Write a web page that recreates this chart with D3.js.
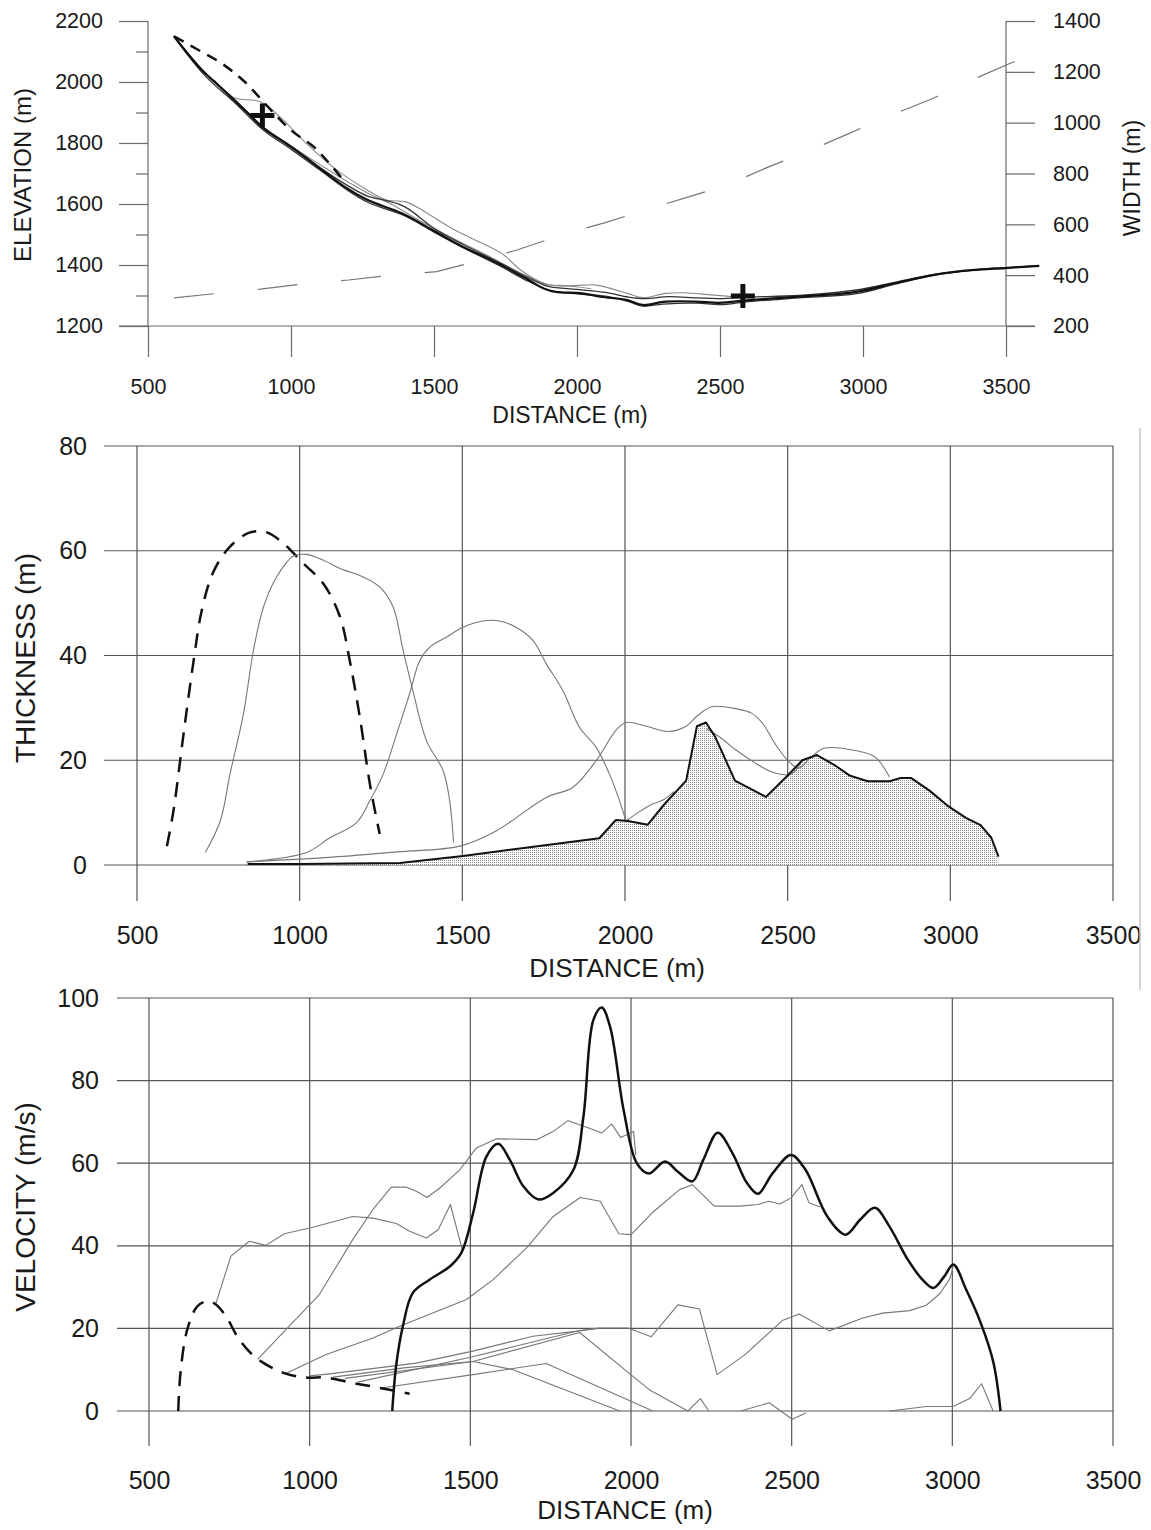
<!DOCTYPE html>
<html><head><meta charset="utf-8">
<script src="https://cdn.jsdelivr.net/npm/d3@7"></script>
<style>
body{margin:0;background:#fff;}
text{font-family:"Liberation Sans",Arial,sans-serif;fill:#1a1a1a;}
</style></head>
<body>
<svg id="chart" width="1151" height="1530"></svg>
<script>
// ---------- DATA ----------
const distTicks = [500,1000,1500,2000,2500,3000,3500];
const elevTicks = [1200,1400,1600,1800,2000,2200];
const elevMinor = [1300,1500,1700,1900,2100];
const widthTicks = [200,400,600,800,1000,1200,1400];
const thickTicks = [0,20,40,60,80];
const velTicks = [0,20,40,60,80,100];

// top panel: elevation (m) vs distance (m)
const bedMain = [[591,2150],[678,2049],[759,1978],[839,1907],[906,1847],[1000,1787],[1094,1722],[1188,1656],[1268,1613],[1389,1569],[1496,1514],[1590,1465],[1724,1405],[1831,1351],[1884,1323],[1925,1312],[2018,1307],[2083,1296],[2176,1285],[2230,1269],[2310,1280],[2417,1280],[2497,1276],[2603,1285],[2777,1296],[2977,1312],[3111,1340],[3244,1367],[3378,1383],[3497,1390],[3616,1397]];
const bedB = [[591,2150],[700,2030],[800,1945],[906,1850],[1000,1790],[1100,1720],[1190,1665],[1270,1625],[1330,1612],[1400,1590],[1500,1520],[1600,1468],[1724,1410],[1831,1358],[1900,1330],[2000,1320],[2100,1310],[2180,1295],[2240,1290],[2320,1296],[2420,1292],[2500,1290],[2600,1295],[2777,1300],[2977,1318],[3111,1343],[3244,1368],[3400,1385],[3616,1397]];
const bedC = [[591,2150],[700,2020],[800,1935],[906,1840],[1000,1780],[1100,1712],[1190,1650],[1270,1605],[1400,1560],[1500,1508],[1600,1458],[1724,1400],[1831,1346],[1900,1318],[2000,1305],[2100,1298],[2180,1280],[2230,1265],[2300,1272],[2420,1275],[2500,1270],[2600,1280],[2777,1292],[2977,1306],[3111,1337],[3244,1366],[3400,1384],[3616,1397]];
const surfG1 = [[732,2006],[799,1949],[893,1935],[973,1875],[1054,1798],[1161,1711],[1268,1645],[1335,1613],[1402,1607],[1469,1574],[1563,1520],[1657,1476],[1737,1438],[1804,1383],[1885,1340],[1938,1331],[2018,1334],[2069,1334],[2176,1307],[2230,1293],[2310,1307],[2377,1309],[2470,1302],[2550,1296]];
const surfG2 = [[1000,1790],[1100,1730],[1200,1672],[1280,1630],[1350,1600],[1450,1545],[1560,1490],[1700,1425],[1800,1375],[1900,1335],[1960,1333],[2050,1322]];
const releaseTop = [[591,2150],[678,2104],[759,2060],[839,2000],[920,1918],[1000,1842],[1080,1787],[1134,1733],[1188,1673]];
const crossPts = [[900,1890],[2580,1298]];
// top panel: width (m) vs distance (m)
const widthLine = [[591,311],[739,328],[893,345],[1040,365],[1201,381],[1349,400],[1509,414],[1643,453],[1790,499],[1945,558],[2096,606],[2230,653],[2390,708],[2523,754],[2670,826],[2817,892],[2950,957],[3097,1029],[3244,1095],[3378,1167],[3511,1232],[3618,1274]];

// middle panel: thickness (m)
const thickInit = [[592,3.6],[612,10.3],[643,25],[674,39],[699,48.6],[735,56],[786,60.8],[848,63.5],[899,63.5],[950,61.4],[1011,57.6],[1073,53.7],[1124,47.4],[1154,39],[1185,28.2],[1216,15.4],[1246,5.9]];
const thickT1 = [[710,2.4],[756,8.4],[786,17.4],[827,28.8],[858,41],[889,49.3],[929,55],[981,59],[1021,59.3],[1073,58.2],[1124,56.6],[1195,55],[1246,53.1],[1287,49.3],[1318,41],[1348,33.3],[1390,23.7],[1441,18],[1461,12.3],[1473,4.3]];
const thickT2 = [[837,0.6],[1021,2.4],[1093,5.2],[1175,8.1],[1216,12.3],[1257,17.4],[1298,25],[1338,32.7],[1369,39],[1400,41.6],[1451,43.5],[1502,45.4],[1563,46.6],[1614,46.6],[1665,45.4],[1717,42.9],[1758,38.4],[1809,33.3],[1860,26.3],[1911,22.5],[1952,17.4],[1983,12.3],[2003,8.4]];
const thickT3 = [[837,0.6],[1100,1.5],[1300,2.5],[1492,3.6],[1604,6.5],[1758,12.9],[1839,14.8],[1911,19.9],[1972,25.7],[2003,27.2],[2065,26.5],[2132,25.5],[2188,26.5],[2221,28.4],[2266,30.2],[2344,29.8],[2389,29],[2422,27.1],[2467,22.6],[2500,20],[2534,18.5],[2570,20.5],[2612,22.3],[2713,21.8],[2769,20.6],[2813,16.8]];
const thickT4 = [[2003,8.4],[2040,10],[2080,11.5],[2120,12.5],[2150,14]];
const thickT5 = [[2250,26],[2290,24.5],[2340,22],[2400,19.5],[2450,17.8],[2510,17.3],[2545,20]];
const thickFinal = [[840,0.2],[1000,0.2],[1308,0.4],[1502,1.7],[1707,3.4],[1921,5.1],[1972,8.6],[2009,8.4],[2070,7.7],[2121,11.6],[2188,16.1],[2221,26.5],[2249,27.2],[2277,24.5],[2338,16.1],[2433,13],[2500,17.1],[2545,20],[2590,21],[2646,19],[2690,17.1],[2746,16],[2813,16],[2847,16.6],[2880,16.6],[2936,14.2],[2992,11.3],[3048,9],[3093,7.6],[3126,5.2],[3148,1.6]];

// bottom panel: velocity (m/s)
const velMain = [[1257,0],[1269,10.9],[1290,20.5],[1321,28.6],[1373,31.8],[1436,35],[1472,38.3],[1509,48],[1550,61.6],[1587,64.7],[1623,60.8],[1665,54.4],[1712,51.2],[1758,52.8],[1821,58.4],[1852,71.3],[1883,94.7],[1909,97.7],[1935,93],[1977,72.9],[2018,60],[2055,57.5],[2106,60.4],[2145,58],[2191,55.6],[2225,60.8],[2270,67.4],[2316,62.4],[2361,55.2],[2395,52.6],[2441,57.6],[2498,62],[2543,58.4],[2611,47.1],[2668,42.7],[2713,46.3],[2759,49.2],[2804,44.7],[2861,36.7],[2907,31.8],[2941,29.8],[2975,32.6],[3003,35.5],[3043,29.4],[3088,21.4],[3128,11.7],[3150,0]];
const velInit = [[591,0],[598,9.3],[619,19.7],[651,25.4],[682,26.6],[708,25.8],[739,23],[781,17.3],[833,12.9],[916,9.3],[989,8.1],[1051,8.1],[1134,6.8],[1218,5.6],[1311,4.2]];
const velA = [[708,26],[755,37.5],[812,41.1],[864,40.1],[921,42.9],[1010,44.5],[1134,47.1],[1197,46.7],[1270,45.4],[1311,43.5],[1363,41.9],[1400,43.9],[1438,50],[1475,39]];
const velB = [[838,12.5],[926,19.7],[1030,28.2],[1134,41.5],[1197,48.8],[1254,54.2],[1301,54.2],[1332,53.2],[1365,51.7],[1405,54],[1467,58.4],[1519,63.7],[1581,65.9],[1706,65.7],[1758,67.7],[1804,70.3],[1862,68.7],[1909,67.3],[1940,69.5],[1968,66.2],[2008,67.7],[2015,62]];
const velC = [[926,9.1],[1051,13.7],[1197,17.7],[1280,20.5],[1488,27],[1571,31.8],[1675,39.5],[1758,47.1],[1842,51.7],[1904,50.8],[1962,42.9],[2000,42.7],[2066,48],[2151,53.6],[2191,54.8],[2259,49.6],[2339,49.6],[2395,50],[2429,50.8],[2463,50.1],[2498,51.6],[2532,54.8],[2554,50.4],[2589,49.4]];
const velD = [[1000,8.5],[1062,9],[1332,11.6],[1508,14.5],[1695,18.1],[1840,19.4],[1902,20.1],[1990,20.1],[2063,18],[2146,25.7],[2213,24.7],[2268,8.8],[2356,13.7],[2471,21.9],[2523,23.5],[2617,19.4],[2721,22.5],[2783,23.7],[2867,24.3],[2919,25.6],[2961,28.4],[2992,32],[3003,35]];
const velE2 = [[1110,7.9],[1508,12],[1840,19],[2006,8.4],[2058,5.1],[2177,0],[2216,3],[2242,0]];
const velE3 = [[1218,5.5],[1508,8.8],[1736,11.5],[2068,0]];
const velE4 = [[1073,8.2],[1300,10.5],[1508,12],[1633,10],[1965,0]];
const velE5 = [[1150,7],[1500,13],[1840,19.5],[1900,20]];
const velE6 = [[2341,0],[2430,2],[2502,-2],[2544,-0.5]];
const velE7 = [[2804,0],[2919,1.1],[3002,1.1],[3054,3],[3091,6.6],[3127,0]];

// ---------- DRAW ----------
const svg = d3.select("#chart");
const fmt = d3.format("d");
const defs = svg.append("defs");
const pat = defs.append("pattern").attr("id","dots").attr("width",2).attr("height",2).attr("patternUnits","userSpaceOnUse");
pat.append("rect").attr("width",2).attr("height",2).attr("fill","#fff");
pat.append("rect").attr("width",1).attr("height",1).attr("fill","#8a8a8a");

const AX = "#6a6a6a";
function styleAxis(g, fs){
  g.select(".domain").remove();
  g.selectAll(".tick line").attr("stroke",AX).attr("stroke-width",1.2);
  g.selectAll(".tick text").attr("font-size",fs).attr("fill","#1a1a1a").attr("font-family","Liberation Sans, Arial, sans-serif");
}
function drawLine(g, data, xs, ys, opts){
  const gen = d3.line().x(d=>xs(d[0])).y(d=>ys(d[1])).curve(opts.curve||d3.curveLinear);
  g.append("path").datum(data).attr("d",gen).attr("fill","none")
   .attr("stroke",opts.color||"#111").attr("stroke-width",opts.width||1)
   .attr("stroke-dasharray",opts.dash||null).attr("stroke-linejoin","round").attr("stroke-linecap","butt");
}

// ===== TOP PANEL =====
const xT = d3.scaleLinear([500,3500],[148,1006]);
const yE = d3.scaleLinear([1200,2200],[326,21]);
const yW = d3.scaleLinear([200,1400],[326,21]);
const topG = svg.append("g");
topG.append("line").attr("x1",xT(500)-29).attr("x2",xT(3500)+29).attr("y1",yE(1200)).attr("y2",yE(1200)).attr("stroke",AX).attr("stroke-width",1.2);
topG.append("line").attr("x1",xT(500)).attr("x2",xT(500)).attr("y1",yE(2200)).attr("y2",yE(1200)).attr("stroke",AX).attr("stroke-width",1.2);
topG.append("line").attr("x1",xT(3500)).attr("x2",xT(3500)).attr("y1",yW(1400)).attr("y2",yW(200)).attr("stroke",AX).attr("stroke-width",1.2);
const gxT = topG.append("g").attr("transform",`translate(0,${yE(1200)})`)
  .call(d3.axisBottom(xT).tickValues(distTicks).tickFormat(fmt).tickSize(31).tickPadding(22));
styleAxis(gxT,21.5);
const gyT = topG.append("g").attr("transform",`translate(${xT(500)},0)`)
  .call(d3.axisLeft(yE).tickValues(elevTicks).tickFormat(fmt).tickSize(29).tickPadding(16));
styleAxis(gyT,21.5);
const gyTm = topG.append("g").attr("transform",`translate(${xT(500)},0)`)
  .call(d3.axisLeft(yE).tickValues(elevMinor).tickSize(12).tickFormat(""));
styleAxis(gyTm,21.5);
const gyW = topG.append("g").attr("transform",`translate(${xT(3500)},0)`)
  .call(d3.axisRight(yW).tickValues(widthTicks).tickFormat(fmt).tickSize(29).tickPadding(18));
styleAxis(gyW,21.5);
topG.append("text").attr("x",570).attr("y",423).attr("text-anchor","middle").attr("font-size",23).text("DISTANCE (m)");
topG.append("text").attr("transform","translate(31,175) rotate(-90)").attr("text-anchor","middle").attr("font-size",24).text("ELEVATION (m)");
topG.append("text").attr("transform","translate(1140,178) rotate(-90)").attr("text-anchor","middle").attr("font-size",23).text("WIDTH (m)");

const smooth = d3.curveCatmullRom.alpha(0.5);
drawLine(topG, widthLine, xT, yW, {color:"#777", width:1.2, dash:"40,44"});
drawLine(topG, surfG1, xT, yE, {color:"#8a8a8a", width:1.1, curve:smooth});
drawLine(topG, surfG2, xT, yE, {color:"#8a8a8a", width:1.1, curve:smooth});
drawLine(topG, bedB, xT, yE, {color:"#333", width:1.3, curve:smooth});
drawLine(topG, bedC, xT, yE, {color:"#333", width:1.3, curve:smooth});
drawLine(topG, bedMain, xT, yE, {color:"#111", width:2.2, curve:smooth});
drawLine(topG, releaseTop, xT, yE, {color:"#111", width:2.5, dash:"11,8", curve:smooth});
topG.selectAll(".cross").data(crossPts).join("path").attr("class","cross")
  .attr("d", d=>{const cx=xT(d[0]), cy=yE(d[1]); return `M${cx-12},${cy}H${cx+12}M${cx},${cy-12}V${cy+12}`;})
  .attr("stroke","#111").attr("stroke-width",5).attr("fill","none");

// ===== MIDDLE PANEL =====
const xM = d3.scaleLinear([500,3500],[137,1113]);
const yM = d3.scaleLinear([0,80],[865,446]);
const mid = svg.append("g");
const GR = "#555";
mid.selectAll(".vg").data(distTicks).join("line").attr("x1",d=>xM(d)).attr("x2",d=>xM(d)).attr("y1",yM(80)).attr("y2",yM(0)+36).attr("stroke",GR).attr("stroke-width",1.2);
mid.selectAll(".hg").data(thickTicks).join("line").attr("x1",xM(500)-33).attr("x2",xM(3500)).attr("y1",d=>yM(d)).attr("y2",d=>yM(d)).attr("stroke",GR).attr("stroke-width",1.2);
const gxM = mid.append("g").attr("transform",`translate(0,${yM(0)})`)
  .call(d3.axisBottom(xM).tickValues(distTicks).tickFormat(fmt).tickSize(36).tickPadding(25));
styleAxis(gxM,25); gxM.selectAll(".tick line").remove();
const gyM = mid.append("g").attr("transform",`translate(${xM(500)},0)`)
  .call(d3.axisLeft(yM).tickValues(thickTicks).tickFormat(fmt).tickSize(33).tickPadding(17));
styleAxis(gyM,25); gyM.selectAll(".tick line").remove();
mid.append("text").attr("x",617).attr("y",977).attr("text-anchor","middle").attr("font-size",26).text("DISTANCE (m)");
mid.append("text").attr("transform","translate(35,658) rotate(-90)").attr("text-anchor","middle").attr("font-size",28).text("THICKNESS (m)");

const area = d3.area().x(d=>xM(d[0])).y0(yM(0)).y1(d=>yM(d[1]));
mid.append("path").datum(thickFinal.concat([[thickFinal[thickFinal.length-1][0],0]])).attr("d",area).attr("fill","url(#dots)").attr("stroke","none");
drawLine(mid, thickInit, xM, yM, {color:"#111", width:2.5, dash:"15,10", curve:smooth});
drawLine(mid, thickT1, xM, yM, {color:"#777", width:1.1, curve:smooth});
drawLine(mid, thickT2, xM, yM, {color:"#777", width:1.1, curve:smooth});
drawLine(mid, thickT3, xM, yM, {color:"#777", width:1.1, curve:smooth});
drawLine(mid, thickT4, xM, yM, {color:"#777", width:1.1, curve:smooth});
drawLine(mid, thickT5, xM, yM, {color:"#777", width:1.1, curve:smooth});
drawLine(mid, thickFinal, xM, yM, {color:"#111", width:2});

svg.append("line").attr("x1",xM(3500)+27).attr("x2",xM(3500)+27).attr("y1",yM(80)-18).attr("y2",yM(0)+125).attr("stroke","#c8c8c8").attr("stroke-width",1.5);

// ===== BOTTOM PANEL =====
const xB = d3.scaleLinear([500,3500],[149,1113]);
const yB = d3.scaleLinear([0,100],[1411,998]);
const bot = svg.append("g");
bot.selectAll(".vg").data(distTicks).join("line").attr("x1",d=>xB(d)).attr("x2",d=>xB(d)).attr("y1",yB(100)).attr("y2",yB(0)+35).attr("stroke",GR).attr("stroke-width",1.2);
bot.selectAll(".hg").data(velTicks).join("line").attr("x1",xB(500)-32).attr("x2",xB(3500)).attr("y1",d=>yB(d)).attr("y2",d=>yB(d)).attr("stroke",GR).attr("stroke-width",1.2);
const gxB = bot.append("g").attr("transform",`translate(0,${yB(0)})`)
  .call(d3.axisBottom(xB).tickValues(distTicks).tickFormat(fmt).tickSize(35).tickPadding(25));
styleAxis(gxB,25); gxB.selectAll(".tick line").remove();
const gyB = bot.append("g").attr("transform",`translate(${xB(500)},0)`)
  .call(d3.axisLeft(yB).tickValues(velTicks).tickFormat(fmt).tickSize(32).tickPadding(18));
styleAxis(gyB,25); gyB.selectAll(".tick line").remove();
bot.append("text").attr("x",625).attr("y",1519).attr("text-anchor","middle").attr("font-size",26).text("DISTANCE (m)");
bot.append("text").attr("transform","translate(35,1207) rotate(-90)").attr("text-anchor","middle").attr("font-size",28).text("VELOCITY (m/s)");

const grays = [velA, velB, velC, velD, velE2, velE3, velE4, velE5, velE6, velE7];
grays.forEach(s=>drawLine(bot, s, xB, yB, {color:"#777", width:1.1}));
drawLine(bot, velInit, xB, yB, {color:"#111", width:2.5, dash:"15,10", curve:smooth});
drawLine(bot, velMain, xB, yB, {color:"#111", width:2.5, curve:smooth});
</script>
</body></html>
